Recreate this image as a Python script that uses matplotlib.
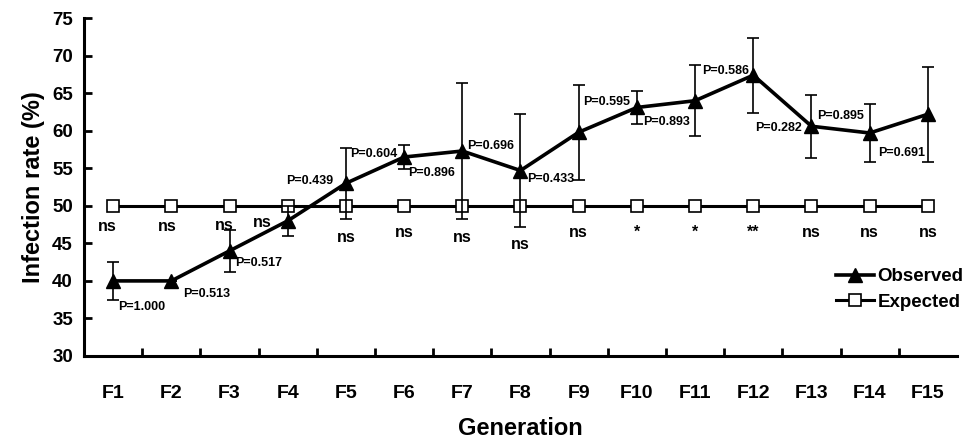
import numpy as np
import matplotlib
matplotlib.use('Agg')
import matplotlib.pyplot as plt
from matplotlib.lines import Line2D

plt.rcParams['font.family'] = ['Liberation Sans', 'DejaVu Sans']
plt.rcParams['font.weight'] = 'bold'

generations = ['F1', 'F2', 'F3', 'F4', 'F5', 'F6', 'F7', 'F8',
               'F9', 'F10', 'F11', 'F12', 'F13', 'F14', 'F15']
observed = [40, 40, 44, 48, 53, 56.5, 57.3, 54.7, 59.8, 63.1, 64, 67.4, 60.6, 59.7, 62.2]
observed_err = [2.5, 0, 2.8, 2, 4.7, 1.6, 9.1, 7.5, 6.3, 2.2, 4.7, 5, 4.2, 3.8, 6.3]
expected = [50] * 15
signif = ['ns', 'ns', 'ns', 'ns', 'ns', 'ns', 'ns', 'ns', 'ns', '*', '*', '**', 'ns', 'ns', 'ns']
p_labels = ['P=1.000', 'P=0.513', 'P=0.517', 'P=0.439', 'P=0.604', 'P=0.896', 'P=0.696',
            'P=0.433', 'P=0.595', 'P=0.893', 'P=0.586', 'P=0.282', 'P=0.895', 'P=0.691']

# which point each P label hangs on, and where (pixels)
p_anchor = [0, 1, 2, 4, 5, 5, 6, 7, 9, 9, 11, 12, 12, 13]
p_off = [(5, -26, 'left'), (12, -13, 'left'), (6, -12, 'left'), (-13, 2, 'right'),
         (-7, 3, 'right'), (4, -16, 'left'), (5, 5, 'left'), (7, -8, 'left'),
         (-7, 5, 'right'), (6, -15, 'left'), (-4, 4, 'right'), (-10, -2, 'right'),
         (6, 10, 'left'), (8, -20, 'left')]
ns_pos = [(-0.1, 47.2), (-0.07, 47.2), (-0.09, 47.4), (-0.44, 47.8), (0, 45.8), (0, 46.5),
          (0, 45.8), (0, 44.8), (0, 46.5), (0, 46.5), (0, 46.5), (0, 46.5), (0, 46.5),
          (0, 46.5), (0, 46.5)]

x = np.arange(len(generations))

fig = plt.figure(figsize=(9.68, 4.42), dpi=100)
ax = fig.add_axes([0.0868, 0.1946, 0.9018, 0.7644])

ax.plot(x, expected, color='black', lw=2.2, marker='s', markersize=8,
        markerfacecolor='white', markeredgecolor='black', markeredgewidth=1.2, zorder=2)
ax.errorbar(x, observed, yerr=observed_err, color='black', lw=2.6, marker='^',
            markersize=10, ecolor='black', elinewidth=1.2, capsize=4.5, capthick=1.2,
            zorder=3)

for i, s in enumerate(signif):
    ax.text(x[i] + ns_pos[i][0], ns_pos[i][1], s, ha='center', va='center',
            fontsize=11.5, fontweight='bold')

for k, lab in enumerate(p_labels):
    j = p_anchor[k]
    dx, dy, ha = p_off[k]
    ax.annotate(lab, (x[j], observed[j]), xytext=(dx, dy), textcoords='offset pixels',
                ha=ha, va='center', fontsize=9, fontweight='bold')

ax.set_xlim(-0.5, 14.5)
ax.set_ylim(30, 75)
ax.set_yticks(np.arange(30, 76, 5))
ax.set_xticks(x)
ax.set_xticklabels(generations)
ax.set_xticks(np.arange(0.5, 14, 1), minor=True)
ax.tick_params(axis='x', which='major', length=0, pad=21, labelsize=14)
ax.tick_params(axis='x', which='minor', direction='in', length=6, width=2)
ax.tick_params(axis='y', direction='in', length=6, width=2, pad=8, labelsize=13.5)
for lab in ax.get_xticklabels() + ax.get_yticklabels():
    lab.set_fontweight('bold')

ax.spines['top'].set_visible(False)
ax.spines['right'].set_visible(False)
ax.spines['left'].set_linewidth(2.2)
ax.spines['bottom'].set_linewidth(2.2)

ax.set_xlabel('Generation', fontsize=17, fontweight='bold', labelpad=11)
ax.set_ylabel('Infection rate (%)', fontsize=17, fontweight='bold', labelpad=5)

handles = [Line2D([], [], color='black', lw=2.6, marker='^', markersize=10),
           Line2D([], [], color='black', lw=2.2, marker='s', markersize=8,
                  markerfacecolor='white', markeredgewidth=1.2)]
ax.legend(handles, ['Observed', 'Expected'], loc='center left',
          bbox_to_anchor=(0.862, 0.197), frameon=False, borderpad=0, borderaxespad=0,
          handlelength=2.0, handletextpad=0.2, labelspacing=0.45,
          prop={'weight': 'bold', 'size': 13.5})

fig.savefig('out.png', dpi=100)
